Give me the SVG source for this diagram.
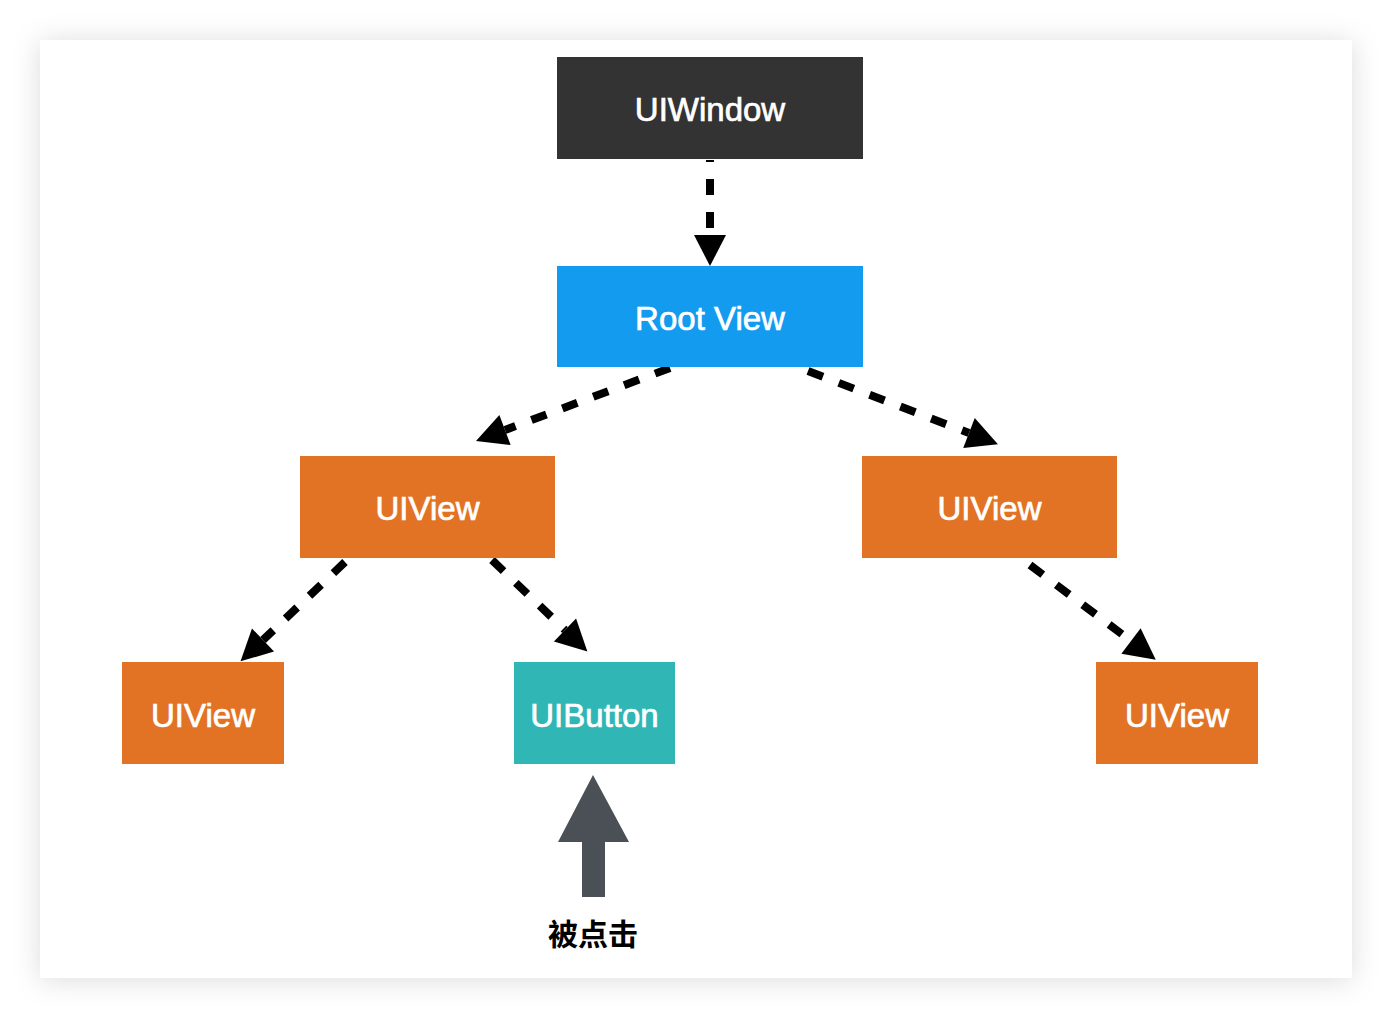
<svg xmlns="http://www.w3.org/2000/svg" width="1392" height="1018" viewBox="0 0 1392 1018">
<defs>
<filter id="sh" x="-10%" y="-10%" width="120%" height="120%">
<feDropShadow dx="0" dy="2" stdDeviation="14" flood-color="#000" flood-opacity="0.14"/>
</filter>
<marker id="ah" markerUnits="userSpaceOnUse" markerWidth="32" markerHeight="34" refX="0" refY="16" orient="auto" overflow="visible">
<path d="M0,0 L31,16 L0,32 z" fill="#000"/>
</marker>
<style>
.lbl{font-family:"Liberation Sans",Arial,sans-serif;font-size:33px;fill:#fff;stroke:#fff;stroke-width:0.7;text-anchor:middle}
.dl{stroke:#000;stroke-width:8;fill:none;stroke-dasharray:16 17;marker-end:url(#ah)}
.win{fill:#333333}
.root{fill:#139BEF}
.view{fill:#E27325}
.btn{fill:#31B6B6}
</style>
</defs>
<rect width="1392" height="1018" fill="#fff"/>
<rect x="40" y="40" width="1312" height="938" fill="#fff" filter="url(#sh)"/>
<g id="connectors">
<line class="dl" x1="710" y1="160" x2="710" y2="235" stroke-dashoffset="14"/>
<line class="dl" x1="670" y1="368" x2="505" y2="430"/>
<line class="dl" x1="808" y1="371" x2="969" y2="433"/>
<line class="dl" x1="345" y1="562" x2="263" y2="640"/>
<line class="dl" x1="492" y1="560" x2="565" y2="630"/>
<line class="dl" x1="1030" y1="565" x2="1131" y2="641"/>
</g>
<g id="uiwindow"><rect class="win" x="557" y="57" width="306" height="102"/><text class="lbl" x="710" y="121">UIWindow</text></g>
<g id="rootview"><rect class="root" x="557" y="266" width="306" height="101"/><text class="lbl" x="710" y="330">Root View</text></g>
<g id="uiview-left"><rect class="view" x="300" y="456" width="255" height="102"/><text class="lbl" x="427.5" y="520">UIView</text></g>
<g id="uiview-right"><rect class="view" x="862" y="456" width="255" height="102"/><text class="lbl" x="989.5" y="520">UIView</text></g>
<g id="uiview-bl"><rect class="view" x="122" y="662" width="162" height="102"/><text class="lbl" x="203" y="727">UIView</text></g>
<g id="uibutton"><rect class="btn" x="514" y="662" width="161" height="102"/><text class="lbl" x="594.5" y="727">UIButton</text></g>
<g id="uiview-br"><rect class="view" x="1096" y="662" width="162" height="102"/><text class="lbl" x="1177" y="727">UIView</text></g>
<g id="tap">
<path d="M593,775 L629,842 L605,842 L605,897 L582,897 L582,842 L558,842 z" fill="#4A5056"/>
<text x="593" y="945" font-family="'Noto Sans CJK SC',sans-serif" font-size="30" font-weight="bold" fill="#000" text-anchor="middle">被点击</text>
</g>
</svg>
